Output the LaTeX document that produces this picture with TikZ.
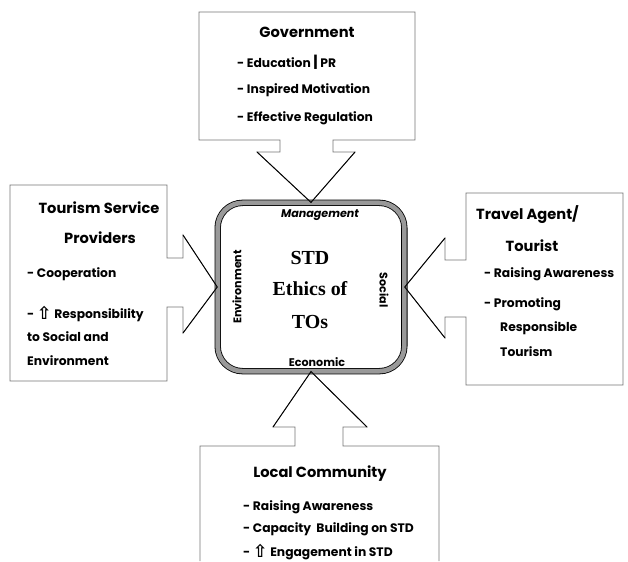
\documentclass[tikz,border=0pt]{standalone}
\usepackage{fontspec}
\setmainfont{Poppins}
\newfontfamily\symfont{DejaVu Sans}
\newfontfamily\corefont{Liberation Serif}
\newcommand{\uparr}{\raisebox{-0.5pt}{\symfont\bfseries\fontsize{15}{15}\selectfont ⇧}}

\tikzset{
  boxline/.style={draw=black!55, line width=0.6pt},
  wing/.style={draw=black, line width=0.8pt},
  head/.style={font=\fontsize{12.5}{14}\selectfont\bfseries},
  item/.style={font=\fontsize{10.5}{12}\selectfont\bfseries, anchor=west, inner sep=0pt},
  side/.style={font=\fontsize{9.5}{11}\selectfont\bfseries, inner sep=1pt},
  core/.style={draw=black, line width=0.7pt, double=black!40, double distance=4pt,
               rounded corners=0.75cm, minimum width=5.6cm, minimum height=5.05cm}
}

\begin{document}
\begin{tikzpicture}[x=0.03cm,y=-0.03cm]
  \useasboundingbox (0,0) rectangle (628,561);

  \node[core] (ethics) at (311,287) {};

  % boxes with their block arrows
  \draw[boxline] (199,12) -- (415,12) -- (415,140) -- (333,140) -- (333,152)
    -- (355,152) -- (ethics.north) -- (257,152) -- (280,152) -- (280,140)
    -- (199,140) -- cycle;
  \draw[boxline] (10,185) -- (167,185) -- (167,258) -- (183,258) -- (183,235)
    -- (ethics.west) -- (183,333) -- (183,307) -- (167,307) -- (167,381)
    -- (10,381) -- cycle;
  \draw[boxline] (466,193) -- (623,193) -- (623,385) -- (466,385) -- (466,317)
    -- (445,317) -- (445,338) -- (ethics.east) -- (445,238) -- (445,260)
    -- (466,260) -- cycle;
  \draw[boxline] (200,561) -- (200,446) -- (295,446) -- (295,427) -- (273,427)
    -- (ethics.south) -- (367,427) -- (343,427) -- (343,446) -- (439,446)
    -- (439,561);

  \draw[wing] (355,152) -- (ethics.north) -- (257,152);
  \draw[wing] (183,235) -- (ethics.west) -- (183,333);
  \draw[wing] (445,338) -- (ethics.east) -- (445,238);
  \draw[wing] (273,427) -- (ethics.south) -- (367,427);

  % centre
  \begin{scope}[every node/.style={font=\fontsize{17}{19}\selectfont\corefont\bfseries}]
    \node (std)  at (310,258) {STD};
    \node (eth)  at (310,289) {Ethics of};
    \node (tos)  at (310,322) {TOs};
  \end{scope}
  \node[side, font=\fontsize{9.5}{11}\selectfont\bfseries\itshape] (mgmt) at (320,215) {Management};
  \node[side] (econ) at (317,362) {Economic};
  \node[side, rotate=90] (env) at (237,287) {Environment};
  \node[side, rotate=-90] (soc) at (384,290) {Social};

  % government
  \node[head] (gov) at (307,32) {Government};
  \begin{scope}[every node/.style={item}]
    \node (gov1) at (237,62)  {- Education {\fontsize{13}{13}\selectfont|} PR};
    \node (gov2) at (237,90)  {- Inspired Motivation};
    \node (gov3) at (237,118) {- Effective Regulation};
  \end{scope}

  % tourism service providers
  \node[head] (tsp)  at (99,208) {Tourism Service};
  \node[head] (tsp0) at (100,238) {Providers};
  \begin{scope}[every node/.style={item}]
    \node (tsp1) at (27,274) {- Cooperation};
    \node (tsp2) at (27,314) {- \uparr{} Responsibility};
    \node (tsp3) at (27,337) {to Social and};
    \node (tsp4) at (27,361) {Environment};
  \end{scope}

  % travel agent / tourist
  \node[head, anchor=west] (ta)  at (472,215) {Travel Agent/};
  \node[head] (ta0) at (532,246) {Tourist};
  \begin{scope}[every node/.style={item}]
    \node (ta1) at (484,274) {- Raising Awareness};
    \node (ta2) at (484,304) {- Promoting};
    \node (ta3) at (500,328) {Responsible};
    \node (ta4) at (500,352) {Tourism};
  \end{scope}

  % local community
  \node[head] (lc) at (320,474) {Local Community};
  \begin{scope}[every node/.style={item}]
    \node (lc1) at (243,507) {- Raising Awareness};
    \node (lc2) at (243,529) {- Capacity\ \ Building on STD};
    \node (lc3) at (243,552) {- \uparr{} Engagement in STD};
  \end{scope}

\end{tikzpicture}
\end{document}
